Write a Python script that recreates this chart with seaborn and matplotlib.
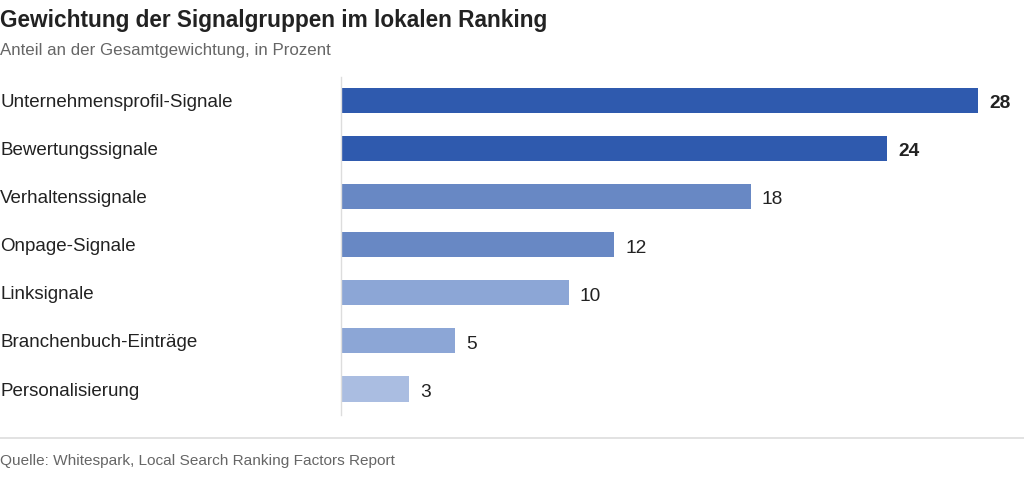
import matplotlib
matplotlib.use("Agg")
import matplotlib.pyplot as plt
import seaborn as sns
import pandas as pd
from matplotlib.lines import Line2D

categories = ["Unternehmensprofil-Signale", "Bewertungssignale", "Verhaltenssignale",
              "Onpage-Signale", "Linksignale", "Branchenbuch-Einträge", "Personalisierung"]
values = [28, 24, 18, 12, 10, 5, 3]
bar_colors = ["#2f5aae", "#2f5aae", "#6888c4", "#6888c4", "#8ca6d6", "#8ca6d6", "#aabde1"]
bold_labels = [True, True, False, False, False, False, False]

title = "Gewichtung der Signalgruppen im lokalen Ranking"
subtitle = "Anteil an der Gesamtgewichtung, in Prozent"
source = "Quelle: Whitespark, Local Search Ranking Factors Report"

sns.set_theme(style="white")
plt.rcParams['font.family'] = ['Liberation Sans', 'DejaVu Sans']

df = pd.DataFrame({"cat": categories, "val": values})

W, H = 1024, 498
fig = plt.figure(figsize=(W / 100, H / 100), dpi=100)
ax_left, ax_right = 341 / W, 978 / W
ax_top, ax_bot = 1 - 77 / H, 1 - 415 / H
ax = fig.add_axes([ax_left, ax_bot, ax_right - ax_left, ax_top - ax_bot])

sns.barplot(data=df, y="cat", x="val", hue="cat", palette=bar_colors, legend=False,
            orient="h", width=0.52, ax=ax, linewidth=0, saturation=1)

ax.set_xlim(0, 28)
ax.set_ylim(6.54, -0.48)
ax.set_xlabel("")
ax.set_ylabel("")
ax.set_xticks([])
for s in ["top", "right", "bottom"]:
    ax.spines[s].set_visible(False)
ax.spines["left"].set_color("#dddddd")
ax.spines["left"].set_linewidth(1)

ax.tick_params(axis="y", length=0, pad=341 * 0.72, labelsize=13.5, labelcolor="#222222")
for lab in ax.get_yticklabels():
    lab.set_ha("left")

for i, (v, b) in enumerate(zip(values, bold_labels)):
    ax.annotate(str(v), xy=(v, i), xytext=(8, -2.5), textcoords="offset points",
                va="center", ha="left", fontsize=13.8, color="#222222",
                fontweight="bold" if b else "normal", annotation_clip=False)

fig.text(0 / W, 1 - 20 / H, title, fontsize=16.3, fontweight="bold", color="#222222",
         va="center", ha="left")
fig.text(0 / W, 1 - 50 / H, subtitle, fontsize=12.2, color="#666666", va="center", ha="left")
fig.add_artist(Line2D([0, 1], [1 - 438 / H, 1 - 438 / H], transform=fig.transFigure,
                      color="#dddddd", linewidth=1.2))
fig.text(0 / W, 1 - 461 / H, source, fontsize=11.1, color="#666666", va="center", ha="left")

fig.savefig("out.png", dpi=100, facecolor="white")
